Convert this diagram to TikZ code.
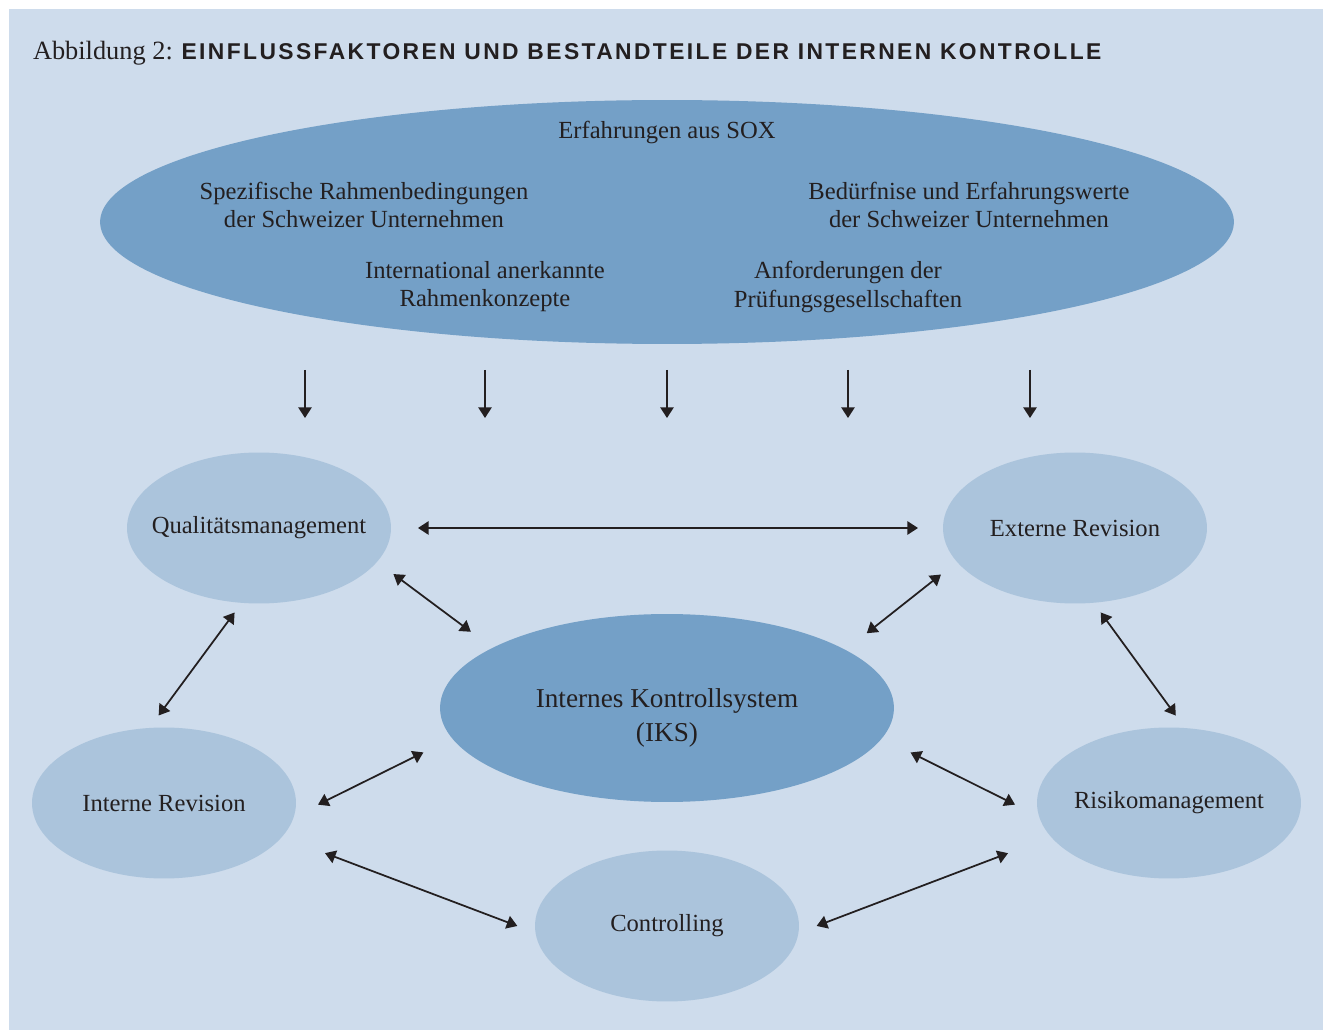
\documentclass[tikz,border=0pt]{standalone}
\usepackage{fontspec}
\setmainfont{Liberation Serif}
\newfontfamily\titlefont[LetterSpace=10.5]{Liberation Sans}
\usepackage{tikz,tkz-graph}
\usetikzlibrary{arrows.meta,shapes.geometric}
\definecolor{bgBlue}{RGB}{206,220,236}
\definecolor{darkBlue}{RGB}{116,160,199}
\definecolor{lightBlue}{RGB}{171,196,220}
\definecolor{inkBlack}{RGB}{35,31,32}
\tikzstyle{bigOval}=[shape = ellipse, fill = darkBlue, minimum width = 22.68cm, minimum height = 4.88cm, inner sep = 0pt]
\tikzstyle{iksOval}=[shape = ellipse, fill = darkBlue, minimum width = 9.08cm, minimum height = 3.76cm, inner sep = 0pt]
\tikzstyle{smallOval}=[shape = ellipse, fill = lightBlue, minimum width = 5.28cm, minimum height = 3.02cm, inner ysep = 0pt, inner xsep = -0.6cm, text = inkBlack, font = \fontsize{14}{16}\selectfont]
\tikzstyle{ovalText}=[align = center, inner sep = 0pt, text = inkBlack, font = \fontsize{14}{16}\selectfont]
\tikzstyle{iksText}=[align = center, inner sep = 0pt, text = inkBlack, font = \fontsize{15.5}{19}\selectfont]
\tikzstyle{titleText}=[anchor = base west, inner sep = 0pt, text = inkBlack, font = \fontsize{15}{18}\selectfont]
\tikzstyle{twoWay}=[draw = inkBlack, line width = 1pt, {Triangle[length=6pt,width=7.5pt]}-{Triangle[length=6pt,width=7.5pt]}]
\tikzstyle{oneWay}=[draw = inkBlack, line width = 1pt, -{Triangle[length=6pt,width=7.5pt]}]

\begin{document}
\begin{tikzpicture}[x = 0.02cm, y = -0.02cm]
\tikzstyle{VertexStyle} = []
\tikzstyle{EdgeStyle} = []
\useasboundingbox (0,0) rectangle (1323,1030);
\fill[bgBlue] (9,9) rectangle (1323,1030);
\Vertex[style = titleText, x = 33, y = 60, L = {Abbildung 2: {\titlefont\bfseries\fontsize{13}{16}\selectfont EINFLUSSFAKTOREN UND BESTANDTEILE DER INTERNEN KONTROLLE}}]{title}
% oben: Einflussfaktoren
\Vertex[style = bigOval, x = 667, y = 222, NoLabel]{factors}
\Vertex[style = ovalText, x = 667, y = 132, L = {Erfahrungen aus SOX}]{f0}
\Vertex[style = ovalText, x = 364, y = 205, L = {Spezifische Rahmenbedingungen\\der Schweizer Unternehmen}]{f1}
\Vertex[style = ovalText, x = 969, y = 205, L = {Bedürfnise und Erfahrungswerte\\der Schweizer Unternehmen}]{f2}
\Vertex[style = ovalText, x = 485, y = 287, L = {International anerkannte\\Rahmenkonzepte}]{f3}
\Vertex[style = ovalText, x = 848, y = 287, L = {Anforderungen der\\Prüfungsgesellschaften}]{f4}
\foreach \x [count = \i] in {305, 485, 667, 848, 1030} {
  \coordinate (top\i) at (\x, 370);
  \coordinate (bot\i) at (\x, 418);
  \draw[oneWay] (top\i) -- (bot\i);
}
% unten: Bestandteile
\Vertex[style = smallOval, x = 259, y = 528, L = {Qualitätsmanagement}]{qm}
\Vertex[style = smallOval, x = 1075, y = 528, L = {Externe Revision}]{er}
\Vertex[style = iksOval, x = 667, y = 708, NoLabel]{iks}
\Vertex[style = iksText, x = 667, y = 718, L = {Internes Kontrollsystem\\(IKS)}]{iksLabel}
\Vertex[style = smallOval, x = 164, y = 803, L = {Interne Revision}]{ir}
\Vertex[style = smallOval, x = 1169, y = 803, L = {Risikomanagement}]{rm}
\Vertex[style = smallOval, x = 667, y = 926, L = {Controlling}]{co}
\draw[twoWay, shorten < = 0.54cm, shorten > = 0.5cm] (qm.east) -- (er.west);
\draw[twoWay, shorten < = 0.41cm, shorten > = 0.54cm] (qm.-16.5) -- (iks.161.1);
\draw[twoWay, shorten < = 0.41cm, shorten > = 0.54cm] (er.196.5) -- (iks.18.9);
\draw[twoWay, shorten < = 0.24cm, shorten > = 0.31cm] (qm.-103.4) -- (ir.101.5);
\draw[twoWay, shorten < = 0.24cm, shorten > = 0.31cm] (er.-76.6) -- (rm.78.5);
\draw[twoWay, shorten < = 0.54cm, shorten > = 0.64cm] (ir.-6.6) -- (iks.188.5);
\draw[twoWay, shorten < = 0.64cm, shorten > = 0.54cm] (iks.-8.5) -- (rm.186.6);
\draw[twoWay, shorten < = 0.92cm, shorten > = 0.39cm] (ir.-16) -- (co.183);
\draw[twoWay, shorten < = 0.39cm, shorten > = 0.92cm] (co.-3) -- (rm.196);
\end{tikzpicture}
\end{document}
